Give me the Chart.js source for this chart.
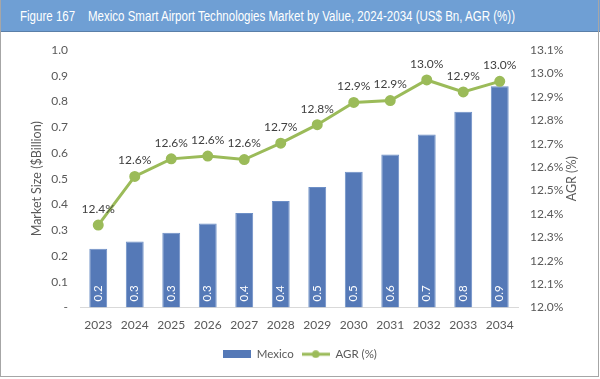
<!DOCTYPE html>
<html>
<head>
<meta charset="utf-8">
<script src="https://cdn.jsdelivr.net/npm/chart.js@4"></script>
<style>
  body { margin: 0; background: #fff; }
  #wrap { position: relative; width: 600px; height: 379px; }
  #frame { position: absolute; left: 0; top: 0; width: 597px; height: 376px; border: 1px solid #a6a6a6; border-top: none; pointer-events: none; }
  #title {
    position: absolute; left: 0; top: 0; width: 600px; height: 32px;
    background: #6f9fd4; border-bottom: 1px solid #5a7fa8;
    color: #fff; font-family: "Liberation Sans", Arial, sans-serif; font-size: 14px;
    line-height: 32px; white-space: pre; box-sizing: border-box; padding-left: 20px; overflow: hidden;
  }
  #title span { display: inline-block; transform-origin: 0 50%; }
  canvas { position: absolute; left: 0; top: 0; }
</style>
</head>
<body>
<div id="wrap">
  <canvas id="chart" width="600" height="379"></canvas>
  <div id="title"><span id="titleText">Figure 167    Mexico Smart Airport Technologies Market by Value, 2024-2034 (US$ Bn, AGR (%))</span></div>
  <div id="frame"></div>
</div>
<script>
const years = ['2023', '2024', '2025', '2026', '2027', '2028', '2029', '2030', '2031', '2032', '2033', '2034'];
const marketSize = [0.228, 0.256, 0.290, 0.326, 0.367, 0.414, 0.468, 0.527, 0.594, 0.672, 0.760, 0.859];
const agr = [12.352, 12.56, 12.635, 12.647, 12.632, 12.702, 12.781, 12.876, 12.884, 12.972, 12.921, 12.966];

const barColor = '#5579b7';
const lineColor = '#9bbb59';
const textColor = '#595959';
const fontFamily = 'Lato, "Open Sans", sans-serif';

// squeeze the title so it ends where the original does
const titleSpan = document.getElementById('titleText');
titleSpan.style.transform = 'scaleX(' + (495 / titleSpan.offsetWidth) + ')';

// legend swatches drawn onto little canvases
function makeSwatch(kind) {
    const c = document.createElement('canvas');
    c.width = 28; c.height = 8;
    const g = c.getContext('2d');
    if (kind === 'bar') {
        g.fillStyle = barColor;
        g.fillRect(0, 0, 28, 8);
    } else {
        g.strokeStyle = lineColor;
        g.lineWidth = 3;
        g.beginPath(); g.moveTo(0, 4); g.lineTo(28, 4); g.stroke();
        g.fillStyle = lineColor;
        g.beginPath(); g.arc(14, 4, 3.8, 0, Math.PI * 2); g.fill();
    }
    return c;
}

// value labels + right axis title
const labelPlugin = {
    id: 'labels',
    afterDatasetsDraw(chart) {
        const ctx = chart.ctx;
        ctx.save();
        const bars = chart.getDatasetMeta(0).data;
        ctx.font = '11.5px ' + fontFamily;
        ctx.fillStyle = '#ffffff';
        ctx.textAlign = 'left';
        ctx.textBaseline = 'middle';
        bars.forEach((b, i) => {
            ctx.save();
            ctx.translate(b.x, b.base - 6);
            ctx.rotate(-Math.PI / 2);
            ctx.fillText(marketSize[i].toFixed(1), 0, 0);
            ctx.restore();
        });
        const pts = chart.getDatasetMeta(1).data;
        ctx.fillStyle = '#404040';
        ctx.textAlign = 'center';
        ctx.font = '12px ' + fontFamily;
        pts.forEach((p, i) => {
            ctx.fillText(agr[i].toFixed(1) + '%', p.x, p.y - 16);
        });
        // right axis title reads bottom to top
        const y1 = chart.scales.y1;
        ctx.fillStyle = textColor;
        ctx.font = '12.5px ' + fontFamily;
        ctx.translate(572, (y1.top + y1.bottom) / 2);
        ctx.rotate(-Math.PI / 2);
        ctx.fillText('AGR (%)', 0, 0);
        ctx.restore();
    }
};

const ctx = document.getElementById('chart').getContext('2d');
new Chart(ctx, {
    data: {
        labels: years,
        datasets: [{
            type: 'bar',
            label: 'Mexico',
            data: marketSize,
            backgroundColor: barColor,
            borderColor: '#6d8fc6',
            borderWidth: 1,
            categoryPercentage: 0.98,
            barPercentage: 0.5,
            yAxisID: 'y',
            order: 2
        }, {
            type: 'line',
            label: 'AGR (%)',
            data: agr,
            borderColor: lineColor,
            backgroundColor: lineColor,
            borderWidth: 3,
            pointRadius: 4,
            pointHoverRadius: 4,
            tension: 0,
            yAxisID: 'y1',
            order: 1
        }]
    },
    options: {
        responsive: false,
        animation: false,
        layout: { padding: { top: 50, left: 0, right: 0, bottom: 9 } },
        plugins: {
            tooltip: { enabled: false },
            legend: {
                position: 'bottom',
                labels: {
                    usePointStyle: true,
                    pointStyleWidth: 28,
                    padding: 8,
                    color: textColor,
                    font: { family: fontFamily, size: 11.5 },
                    generateLabels(chart) {
                        return chart.data.datasets.map((ds, i) => ({
                            text: ds.label,
                            pointStyle: makeSwatch(i === 0 ? 'bar' : 'line'),
                            fontColor: textColor,
                            lineWidth: 0,
                            datasetIndex: i
                        }));
                    }
                }
            }
        },
        scales: {
            x: {
                grid: { display: false, drawTicks: false },
                border: { color: '#d9d9d9' },
                ticks: { color: textColor, padding: 10, font: { family: fontFamily, size: 12 } },
                afterFit(scale) { scale.height = 33; }
            },
            y: {
                position: 'left',
                min: 0, max: 1.0,
                grid: { display: false, drawTicks: false },
                border: { display: false },
                ticks: {
                    stepSize: 0.1,
                    padding: 12,
                    color: textColor,
                    font: { family: fontFamily, size: 12 },
                    callback: v => (v === 0 ? '-' : v.toFixed(1))
                },
                title: {
                    display: true,
                    text: 'Market Size ($Billion)',
                    color: textColor,
                    font: { family: fontFamily, size: 12.5 },
                    padding: { top: 29 }
                },
                afterFit(scale) { scale.width = 80; }
            },
            y1: {
                position: 'right',
                min: 12.0, max: 13.1,
                grid: { display: false, drawTicks: false },
                border: { display: false },
                ticks: {
                    stepSize: 0.1,
                    padding: 12,
                    color: textColor,
                    font: { family: fontFamily, size: 12 },
                    callback: v => v.toFixed(1) + '%'
                },
                afterFit(scale) { scale.width = 82; }
            }
        }
    },
    plugins: [labelPlugin]
});
</script>
</body>
</html>
